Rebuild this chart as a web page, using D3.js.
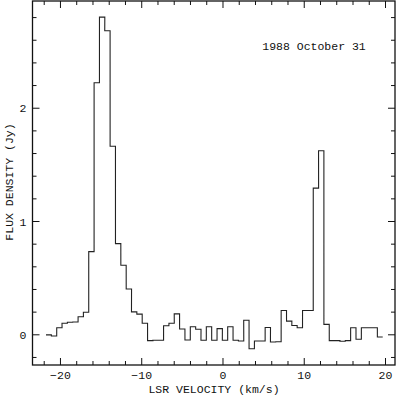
<!DOCTYPE html>
<html>
<head>
<meta charset="utf-8">
<script src="https://cdn.jsdelivr.net/npm/d3@7"></script>
<style>
  body { margin: 0; background: #fff; }
  text { font-family: "Liberation Mono", "DejaVu Sans Mono", monospace; fill: #111; }
</style>
</head>
<body>
<div id="chart"></div>
<script>
// channel centres (km/s) and flux density (Jy)
const velocity = [
    -21.39, -20.73, -20.07, -19.42, -18.76, -18.10, -17.44, -16.79, -16.13, -15.47,
    -14.81, -14.16, -13.50, -12.84, -12.18, -11.52, -10.87, -10.21, -9.55, -8.89,
    -8.24, -7.58, -6.92, -6.26, -5.61, -4.95, -4.29, -3.63, -2.97, -2.32,
    -1.66, -1.00, -0.34, 0.31, 0.97, 1.63, 2.29, 2.94, 3.60, 4.26,
    4.92, 5.58, 6.23, 6.89, 7.55, 8.21, 8.86, 9.52, 10.18, 10.84,
    11.50, 12.15, 12.81, 13.47, 14.13, 14.78, 15.44, 16.10, 16.76, 17.42,
    18.07, 18.73, 19.39
];
const flux = [
    -0.005, -0.015, 0.058, 0.097, 0.106, 0.108, 0.155, 0.194, 0.73, 2.22,
    2.80, 2.68, 1.66, 0.80, 0.61, 0.40, 0.198, 0.178, 0.097, -0.056,
    -0.052, -0.052, 0.076, 0.097, 0.18, 0.047, -0.05, 0.067, 0.044, -0.053,
    0.067, -0.053, 0.05, -0.053, 0.067, -0.053, -0.059, 0.124, -0.127, -0.059,
    -0.059, 0.06, -0.068, -0.066, 0.21, 0.116, 0.078, 0.058, 0.21, 0.21,
    1.29, 1.62, 0.088, -0.056, -0.056, -0.062, -0.056, 0.058, -0.044, 0.058,
    0.058, 0.058, -0.024
];
const chanWidth = 0.658;

const xMajor = [-20, -10, 0, 10, 20];
const xMinor = [-22, -18, -16, -14, -12, -8, -6, -4, -2, 2, 4, 6, 8, 12, 14, 16, 18];
const yMajor = [0, 1, 2];
const yMinor = [-0.2, 0.2, 0.4, 0.6, 0.8, 1.2, 1.4, 1.6, 1.8, 2.2, 2.4, 2.6, 2.8];

const dateLabel = "1988 October 31";

const width = 398;
const height = 398;
const margin = { top: 1, right: 3, bottom: 33, left: 32.5 };

const svg = d3.select("#chart")
    .append("svg")
    .attr("width", width)
    .attr("height", height);

const x = d3.scaleLinear()
    .domain([-23.38, 21.23])
    .range([margin.left, width - margin.right]);

const y = d3.scaleLinear()
    .domain([-0.271, 2.942])
    .range([height - margin.bottom, margin.top]);

const fmt = d3.format("d");

// bottom axis
svg.append("g")
    .attr("transform", `translate(0,${height - margin.bottom})`)
    .call(d3.axisBottom(x).tickValues(xMinor).tickSize(-4).tickFormat(""));
svg.append("g")
    .attr("class", "xlab")
    .attr("transform", `translate(0,${height - margin.bottom})`)
    .call(d3.axisBottom(x).tickValues(xMajor).tickSizeInner(-7).tickSizeOuter(0).tickPadding(5.5).tickFormat(fmt));

// top axis
svg.append("g")
    .attr("transform", `translate(0,${margin.top})`)
    .call(d3.axisTop(x).tickValues(xMinor).tickSize(-4).tickFormat(""));
svg.append("g")
    .attr("transform", `translate(0,${margin.top})`)
    .call(d3.axisTop(x).tickValues(xMajor).tickSize(-7).tickFormat(""));

// left axis
svg.append("g")
    .attr("transform", `translate(${margin.left},0)`)
    .call(d3.axisLeft(y).tickValues(yMinor).tickSize(-4).tickFormat(""));
svg.append("g")
    .attr("class", "ylab")
    .attr("transform", `translate(${margin.left},0)`)
    .call(d3.axisLeft(y).tickValues(yMajor).tickSizeInner(-7).tickSizeOuter(0).tickPadding(6).tickFormat(fmt));

// right axis
svg.append("g")
    .attr("transform", `translate(${width - margin.right},0)`)
    .call(d3.axisRight(y).tickValues(yMinor).tickSize(-4).tickFormat(""));
svg.append("g")
    .attr("transform", `translate(${width - margin.right},0)`)
    .call(d3.axisRight(y).tickValues(yMajor).tickSize(-7).tickFormat(""));

svg.selectAll(".domain").remove();
svg.selectAll(".tick line").attr("stroke", "#111").attr("stroke-width", 1);
svg.selectAll(".tick text")
    .attr("font-family", "Liberation Mono, monospace")
    .attr("font-size", 11.5)
    .attr("fill", "#111");
svg.selectAll(".ylab .tick text").attr("dy", "0.36em").attr("x", -6);

// frame
svg.append("rect")
    .attr("x", margin.left)
    .attr("y", margin.top)
    .attr("width", width - margin.right - margin.left)
    .attr("height", height - margin.bottom - margin.top)
    .attr("fill", "none")
    .attr("stroke", "#111")
    .attr("stroke-width", 1.3);

// histogram-style spectrum
const steps = [];
velocity.forEach((v, i) => {
    steps.push([v - chanWidth / 2, flux[i]]);
    steps.push([v + chanWidth / 2, flux[i]]);
});

const line = d3.line()
    .x(d => x(d[0]))
    .y(d => y(d[1]));

svg.append("path")
    .datum(steps)
    .attr("fill", "none")
    .attr("stroke", "#222")
    .attr("stroke-width", 1.1)
    .attr("d", line);

// labels
svg.append("text")
    .attr("x", 314)
    .attr("y", 50)
    .attr("text-anchor", "middle")
    .attr("font-size", 11.5)
    .text(dateLabel);

svg.append("text")
    .attr("x", 214)
    .attr("y", 393)
    .attr("text-anchor", "middle")
    .attr("font-size", 11.5)
    .text("LSR VELOCITY (km/s)");

svg.append("text")
    .attr("transform", "rotate(-90)")
    .attr("x", -182)
    .attr("y", 13)
    .attr("text-anchor", "middle")
    .attr("font-size", 11.5)
    .text("FLUX DENSITY (Jy)");
</script>
</body>
</html>
